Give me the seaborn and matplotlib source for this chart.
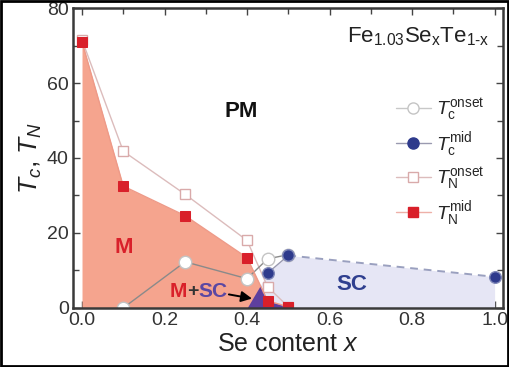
import matplotlib
matplotlib.use("Agg")
import matplotlib.pyplot as plt
import seaborn as sns
import numpy as np
from matplotlib.lines import Line2D
from matplotlib.patches import Rectangle
from matplotlib.ticker import MultipleLocator

# ---------------- data ----------------
x_tn = [0.0, 0.10, 0.25, 0.40, 0.45, 0.50]
tn_onset = [71.5, 41.8, 30.3, 18.0, 5.6, 0.3]
tn_mid = [71.0, 32.5, 24.6, 13.4, 1.9, 0.3]

x_tc_onset = [0.10, 0.25, 0.40, 0.45, 0.50]
tc_onset = [0.0, 12.3, 7.8, 13.1, 14.2]

x_tc_mid = [0.40, 0.45, 0.50, 1.00]
tc_mid = [0.0, 9.3, 14.0, 8.3]

x_ticks = [0.0, 0.2, 0.4, 0.6, 0.8, 1.0]
y_ticks = [0, 20, 40, 60, 80]

# ---------------- style ----------------
sns.set_theme(style="ticks")
plt.rcParams["font.family"] = ["Liberation Sans", "DejaVu Sans"]
plt.rcParams["mathtext.fontset"] = "custom"
plt.rcParams["mathtext.rm"] = "Liberation Sans"
plt.rcParams["mathtext.it"] = "Liberation Sans:italic"
plt.rcParams["mathtext.bf"] = "Liberation Sans:bold"

RED = "#d9202a"
SALMON = "#f5a48e"
LAVENDER = "#e6e6f5"
PURPLE = "#5e3f9e"
BLUE = "#2e3a8c"
SC_BLUE = "#2f3f8f"

fig = plt.figure(figsize=(5.10, 3.67), dpi=100)
ax = fig.add_axes([0.143, 0.161, 0.843, 0.817])

# ---------------- filled phase regions ----------------
ax.fill_between(x_tc_mid, 0, tc_mid, color=LAVENDER, lw=0, zorder=1)
ax.fill_between(x_tn, 0, tn_mid, color=SALMON, lw=0, zorder=2)
grid = np.linspace(min(x_tc_mid), max(x_tn), 401)
overlap = np.minimum(np.interp(grid, x_tc_mid, tc_mid), np.interp(grid, x_tn, tn_mid))
ax.fill_between(grid, 0, overlap, color=PURPLE, lw=0, zorder=3)

# ---------------- lines & markers ----------------
sns.lineplot(x=x_tn, y=tn_onset, sort=False, ax=ax, color="#dcbcbc", lw=1.0,
             marker="s", markersize=7, markerfacecolor="white",
             markeredgecolor="#d9aaaa", markeredgewidth=1.0, zorder=4)
sns.lineplot(x=x_tc_onset, y=tc_onset, sort=False, ax=ax, color="#8a8a8a", lw=1.0,
             marker="o", markersize=9, markerfacecolor="white",
             markeredgecolor="#c4c4c4", markeredgewidth=1.0, zorder=5)
sns.lineplot(x=x_tn, y=tn_mid, sort=False, ax=ax, color="#ee9a88", lw=1.0,
             marker="s", markersize=7, markerfacecolor=RED,
             markeredgecolor=RED, zorder=6)
# Tc mid: solid up to x=0.5, dashed beyond
sns.lineplot(x=x_tc_mid[1:3], y=tc_mid[1:3], sort=False, ax=ax, color="#9a9ab0",
             lw=1.0, zorder=6)
ax.plot(x_tc_mid[2:], tc_mid[2:], color="#9aa0bf", lw=1.4,
        linestyle=(0, (4, 3)), zorder=6)
sns.scatterplot(x=x_tc_mid[1:], y=tc_mid[1:], ax=ax, color=BLUE, s=70,
                edgecolor="#8088b8", linewidth=1.0, zorder=7)

# ---------------- annotations ----------------
ax.text(0.385, 52.5, "PM", fontsize=16, fontweight="bold", color="#111111",
        ha="center", va="center", zorder=8)
ax.text(0.10, 16.0, "M", fontsize=16, fontweight="bold", color=RED,
        ha="center", va="center", zorder=8)
ax.text(0.655, 6.2, "SC", fontsize=16, fontweight="bold", color=SC_BLUE,
        ha="center", va="center", zorder=8)

anchor = (0.268, 4.4)
ax.annotate("+", xy=anchor, ha="center", va="center", fontsize=14,
            fontweight="bold", color="#333333", zorder=8)
ax.annotate("M", xy=anchor, xytext=(-4, 0), textcoords="offset points",
            ha="right", va="center", fontsize=15, fontweight="bold", color=RED, zorder=8)
ax.annotate("SC", xy=anchor, xytext=(4, 0), textcoords="offset points",
            ha="left", va="center", fontsize=15, fontweight="bold", color="#5a47a3", zorder=8)
ax.annotate("", xy=(0.412, 2.5), xytext=(0.356, 3.6),
            arrowprops=dict(arrowstyle="-|>", color="black", lw=1.4,
                            mutation_scale=16, shrinkA=0, shrinkB=0), zorder=9)

ax.text(0.97, 0.905, r"Fe$_{1.03}$Se$_{\mathrm{x}}$Te$_{1\text{-}\mathrm{x}}$",
        transform=ax.transAxes, fontsize=16, ha="right", va="center", color="#222222")

# ---------------- legend ----------------
handles = [
    Line2D([], [], color="#c8c8c8", lw=1, marker="o", markersize=8,
           markerfacecolor="white", markeredgecolor="#c4c4c4"),
    Line2D([], [], color="#9a9ab0", lw=1, marker="o", markersize=8,
           markerfacecolor=BLUE, markeredgecolor=BLUE),
    Line2D([], [], color="#dcbcbc", lw=1, marker="s", markersize=7,
           markerfacecolor="white", markeredgecolor="#d9aaaa"),
    Line2D([], [], color="#eeb0a8", lw=1, marker="s", markersize=7,
           markerfacecolor=RED, markeredgecolor=RED),
]
labels = [r"$T_{\mathrm{c}}^{\mathrm{onset}}$", r"$T_{\mathrm{c}}^{\mathrm{mid}}$",
          r"$T_{\mathrm{N}}^{\mathrm{onset}}$", r"$T_{\mathrm{N}}^{\mathrm{mid}}$"]
leg = ax.legend(handles, labels, loc="upper right", bbox_to_anchor=(0.99, 0.75),
                frameon=False, fontsize=14, handlelength=1.8, handletextpad=0.3,
                labelspacing=0.35, borderaxespad=0.3)

# ---------------- axes ----------------
ax.set_xlim(-0.022, 1.02)
ax.set_ylim(0, 80)
ax.set_xticks(x_ticks)
ax.set_xticklabels([f"{v:.1f}" for v in x_ticks])
ax.set_yticks(y_ticks)
ax.xaxis.set_minor_locator(MultipleLocator(0.1))
ax.yaxis.set_minor_locator(MultipleLocator(10))
ax.tick_params(which="both", direction="in", top=True, right=True,
               color="#444444", width=1.0)
ax.tick_params(which="major", length=5, labelsize=14, labelcolor="#333333", pad=3)
ax.tick_params(which="minor", length=4)
for s in ax.spines.values():
    s.set_linewidth(1.8)
    s.set_color("#3a3a3a")
    s.set_zorder(10)

ax.set_xlabel(r"Se content $x$", fontsize=18, color="#222222", labelpad=2)
ax.set_ylabel(r"$T_c$, $T_N$", fontsize=19, color="#222222", labelpad=2)

fig.add_artist(Rectangle((0.002, 0.003), 0.994, 0.994, transform=fig.transFigure,
                         fill=False, edgecolor="black", lw=2.0))

fig.savefig("out.png", dpi=100)
